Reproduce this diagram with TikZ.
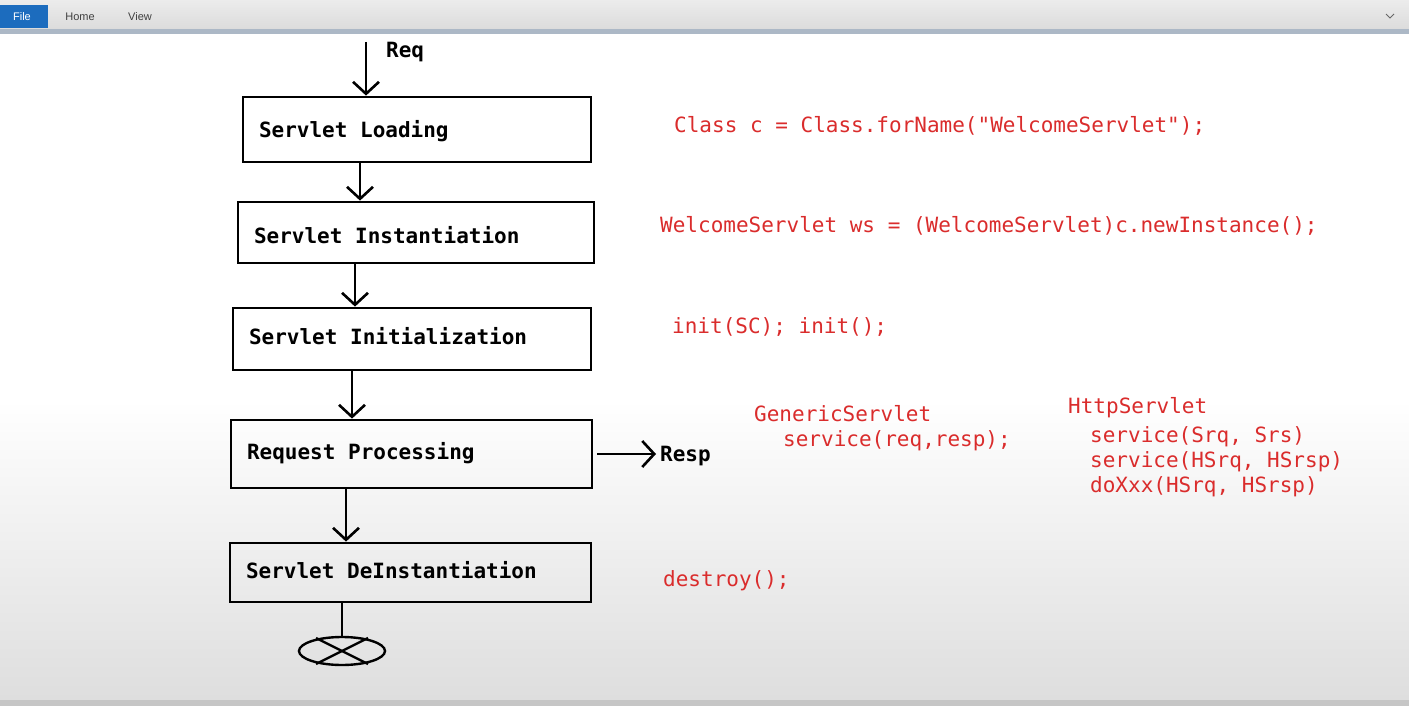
\documentclass[tikz,border=0pt]{standalone}
\usepackage{fontspec}
\setmonofont{DejaVu Sans Mono}
\newfontfamily\uifont{Liberation Sans}
\usetikzlibrary{arrows.meta,shapes.geometric,calc}
\definecolor{codered}{RGB}{218,44,44}
\definecolor{fileblue}{RGB}{28,108,190}
\definecolor{barline}{RGB}{172,184,198}

\begin{document}
\begin{tikzpicture}[x=1pt,y=-1pt,
  >={Straight Barb[length=12pt,width=26pt,line width=2.6pt]},
  stage/.style={draw,line width=2.8pt,inner xsep=16pt,inner ysep=0pt,
    text height=15pt,text depth=4pt,
    font=\ttfamily\bfseries\fontsize{21}{25}\selectfont},
  flow/.style={->,line width=2.6pt},
  lbl/.style={inner sep=0pt,anchor=base west,font=\ttfamily\bfseries\fontsize{21}{25}\selectfont},
  code/.style={inner sep=0pt,anchor=base west,text=codered,font=\ttfamily\fontsize{21}{25}\selectfont},
  ui/.style={inner sep=0pt,font=\uifont\fontsize{11}{13}\selectfont}]
  \useasboundingbox (0,0) rectangle (1409,706);
  % window and canvas
  \shade[top color=gray!15,bottom color=gray!28] (0,0) rectangle (1409,30);
  \fill[barline] (0,29) rectangle (1409,34);
  \fill[white] (0,34) rectangle (1409,706);
  \shade[top color=white,bottom color=gray!26] (0,400) rectangle (1409,700);
  \fill[gray!45] (0,700) rectangle (1409,706);
  \fill[fileblue] (0,5) rectangle (48,28);
  \node[ui,text=white] (file) at (22,16.5) {File};
  \node[ui,text=black!75] (home) at (80,16.5) {Home};
  \node[ui,text=black!75] (view) at (140,16.5) {View};
  \draw[black!60,line width=0.8pt] (1386,14) -- (1390,18) -- (1394,14);

  % life cycle
  \node[stage,minimum height=65pt] (load) at (417,129.5) {\makebox[316pt][l]{\raisebox{-3pt}{Servlet Loading}}};
  \node[stage,minimum height=61pt] (inst) at (416,232.5) {\makebox[324pt][l]{\raisebox{-5pt}{Servlet Instantiation}}};
  \node[stage,minimum height=62pt] (init) at (412,339) {\makebox[326pt][l]{Servlet Initialization}};
  \node[stage,minimum height=68pt] (proc) at (411.5,454) {\makebox[329pt][l]{Request Processing}};
  \node[stage,minimum height=59pt] (dead) at (410.5,572.5) {\makebox[329pt][l]{Servlet DeInstantiation}};
  \node[draw,ellipse,line width=2.4pt,minimum width=86pt,minimum height=28pt] (stop) at (342,651) {};

  \coordinate (req) at (366,42);
  \node[lbl] (reqlbl) at (386,58) {Req};
  \node[lbl] (resp) at (660,461) {Resp};
  \coordinate (respin) at (proc.east -| resp.west);

  \draw[flow] (req) -- ($(load.north)+(-51,0)$);
  \draw[flow] ($(load.south)+(-57,0)$) -- ($(inst.north)+(-56,0)$);
  \draw[flow] ($(inst.south)+(-61,0)$) -- ($(init.north)+(-57,0)$);
  \draw[flow] ($(init.south)+(-60,0)$) -- ($(proc.north)+(-59.5,0)$);
  \draw[flow] ($(proc.south)+(-65.5,0)$) -- ($(dead.north)+(-64.5,0)$);
  \draw[line width=2.6pt] ($(dead.south)+(-68.5,0)$) -- (stop.north);
  \draw[flow] ($(proc.east)+(4,0)$) -- ($(respin)+(-4,0)$);
  \draw[line width=2.4pt] ($(stop.center)+(-26,-13)$) -- ($(stop.center)+(26,13)$);
  \draw[line width=2.4pt] ($(stop.center)+(26,-13)$) -- ($(stop.center)+(-26,13)$);

  % what the container calls
  \node[code] (forname) at (674,133) {Class c = Class.forName("WelcomeServlet");};
  \node[code] (newinst) at (660,232) {WelcomeServlet ws = (WelcomeServlet)c.newInstance();};
  \node[code] (initcall) at (672,333) {init(SC); init();};
  \node[code] (generic) at (754,421) {GenericServlet};
  \node[code] (gservice) at (783,446) {service(req,resp);};
  \node[code] (http) at (1068,413) {HttpServlet};
  \node[code] (hservicea) at (1090,442) {service(Srq, Srs)};
  \node[code] (hserviceb) at (1090,467) {service(HSrq, HSrsp)};
  \node[code] (hdoxxx) at (1090,492) {doXxx(HSrq, HSrsp)};
  \node[code] (destroy) at (663,586) {destroy();};
\end{tikzpicture}
\end{document}
